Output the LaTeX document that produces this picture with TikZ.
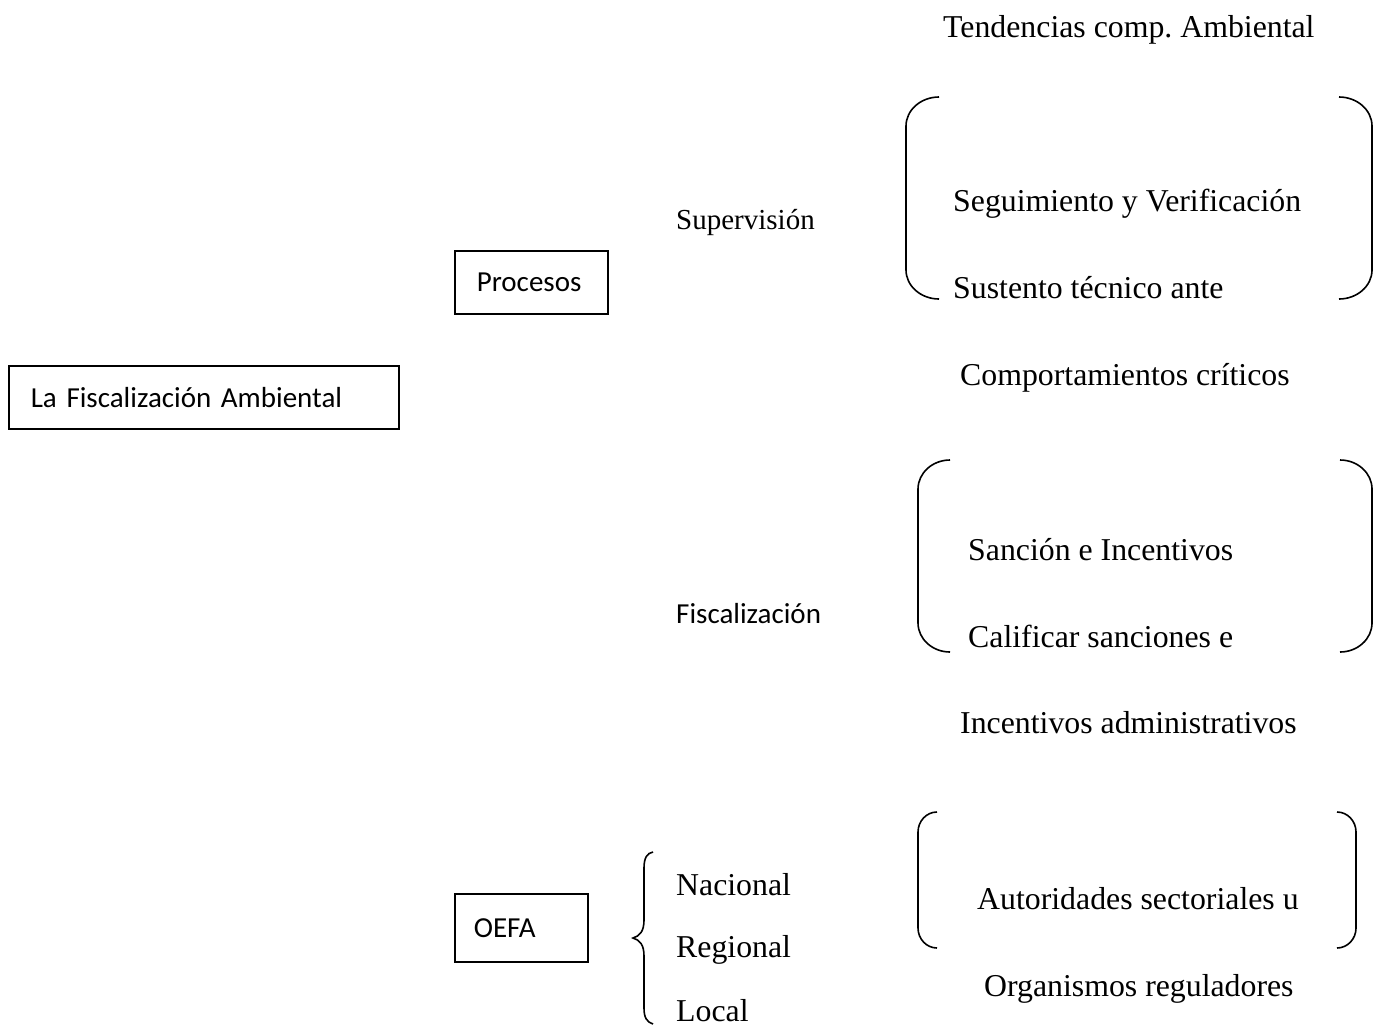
\documentclass[tikz,border=0pt]{standalone}
\usepackage{fontspec}
\setmainfont{Liberation Serif}
\newfontfamily\calfont{Carlito}
\frenchspacing
% xline, xend, top, bottom, hook height
\newcommand\myLpar[5]{%
  \draw[brk] (#2,#3) .. controls ({#2-0.55*(#2-#1)},#3) and (#1,{#3+0.45*#5}) .. (#1,#3+#5) -- (#1,#4-#5) .. controls (#1,{#4-0.45*#5}) and ({#2-0.55*(#2-#1)},#4) .. (#2,#4);}
\newcommand\myRpar[5]{%
  \draw[brk] (#2,#3) .. controls ({#2+0.55*(#1-#2)},#3) and (#1,{#3+0.45*#5}) .. (#1,#3+#5) -- (#1,#4-#5) .. controls (#1,{#4-0.45*#5}) and ({#2+0.55*(#1-#2)},#4) .. (#2,#4);}
\begin{document}
\begin{tikzpicture}[x=1pt,y=-1pt,
  tm/.style={inner sep=0pt, anchor=base west, font=\fontsize{31.8}{38}\selectfont},
  cb/.style={inner sep=0pt, anchor=base west, font=\calfont\fontsize{29}{35}\selectfont},
  box/.style={draw, line width=1.6pt, anchor=north west, inner ysep=0pt, align=left, font=\calfont\fontsize{29}{35}\selectfont},
  brk/.style={line width=1.6pt}]
\useasboundingbox[fill=white] (0,0) rectangle (1375,1026);
% boxes
\node[box, minimum width=390, minimum height=63, inner xsep=22, text width=346] (fa) at (8,365) {La Fiscalización Ambiental};
\node[box, minimum width=153, minimum height=63, inner xsep=22, text width=109] (proc) at (454,250) {Procesos};
\node[box, minimum width=133, minimum height=68, inner xsep=19, text width=95] (oefa) at (454,893) {OEFA};
% labels
\node[tm] (tend) at (943,37) {Tendencias comp. Ambiental};
\node[tm, font=\fontsize{29}{35}\selectfont] (sup) at (676,229) {Supervisión};
\node[tm] (seg) at (953,211) {Seguimiento y Verificación};
\node[tm] (sus) at (953,298) {Sustento técnico ante};
\node[tm] (comp) at (960,385) {Comportamientos críticos};
\node[cb] (fis) at (676,623) {Fiscalización};
\node[tm] (san) at (968,560) {Sanción e Incentivos};
\node[tm] (cal) at (968,647) {Calificar sanciones e};
\node[tm] (inc) at (960,733) {Incentivos administrativos};
\node[tm] (nac) at (676,895) {Nacional};
\node[tm] (reg) at (676,957) {Regional};
\node[tm] (loc) at (676,1021) {Local};
\node[tm] (aut) at (977,909) {Autoridades sectoriales u};
\node[tm] (org) at (984,996) {Organismos reguladores};
% brackets
\myLpar{906}{939}{97}{299}{29}
\myRpar{1372}{1339}{97}{299}{29}
\myLpar{918}{950}{460}{652}{29}
\myRpar{1372}{1340}{460}{652}{29}
\myLpar{918}{937}{812}{948}{20}
\myRpar{1356}{1337}{812}{948}{20}
% curly brace
\draw[brk] (653,852) .. controls (647,853) and (644,858) .. (644,868) -- (644,920)
  .. controls (644,931) and (640,936) .. (633,938)
  .. controls (640,940) and (644,945) .. (644,956) -- (644,1008)
  .. controls (644,1018) and (647,1022) .. (653,1024);
\end{tikzpicture}
\end{document}
